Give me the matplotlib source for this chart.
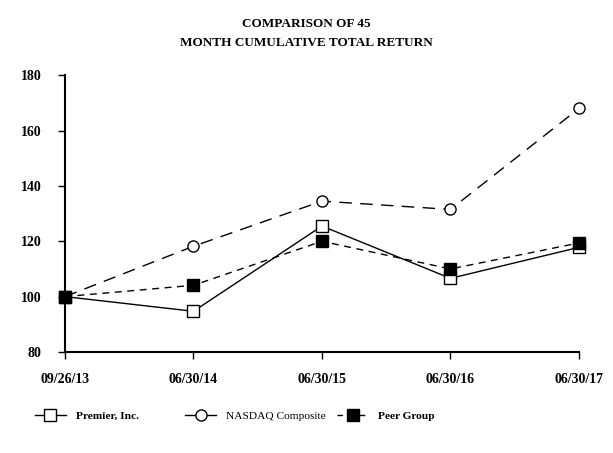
import matplotlib
matplotlib.use("Agg")
import matplotlib.pyplot as plt
from matplotlib.lines import Line2D

plt.rcParams['font.family'] = ['Liberation Serif', 'DejaVu Serif']

dates = ["09/26/13", "06/30/14", "06/30/15", "06/30/16", "06/30/17"]
premier = [100, 94.7, 125.5, 106.6, 117.8]
nasdaq = [100, 118.2, 134.5, 131.5, 168.0]
peer = [100, 104.1, 120.0, 110.0, 119.4]

fig = plt.figure(figsize=(6.13, 4.53), dpi=100)
ax = fig.add_axes([0.106, 0.223, 0.8385, 0.611])

x = range(len(dates))
ax.plot(x, premier, color='black', lw=1, ls='-', marker='s', ms=8,
        mfc='white', mec='black', mew=1, clip_on=False, zorder=3)
ax.plot(x, nasdaq, color='black', lw=1, ls=(0, (9, 6)), marker='o', ms=8,
        mfc='white', mec='black', mew=1, clip_on=False, zorder=3)
ax.plot(x, peer, color='black', lw=1, ls=(0, (5, 4)), marker='s', ms=8,
        mfc='black', mec='black', clip_on=False, zorder=4)

ax.set_xlim(0, 4)
ax.set_ylim(80, 180)
ax.set_yticks(range(80, 181, 20))
ax.set_xticks(list(x))
ax.set_xticklabels(dates)
ax.spines['top'].set_visible(False)
ax.spines['right'].set_visible(False)
ax.spines['left'].set_linewidth(1.5)
ax.spines['bottom'].set_linewidth(1.5)
ax.tick_params(direction='out', length=5, width=1, labelsize=10)
ax.tick_params(axis='x', pad=10)
ax.tick_params(axis='y', pad=12)
for lab in ax.get_xticklabels() + ax.get_yticklabels():
    lab.set_fontweight('bold')

fig.text(0.5, 0.96, "COMPARISON OF 45\nMONTH CUMULATIVE TOTAL RETURN",
         ha='center', va='top', fontsize=9.5, fontweight='bold', linespacing=1.75)

# legend: three separate entries, like the original
entries = [
    (Line2D([], [], color='black', lw=1, ls='-', marker='s', ms=8, mfc='white', mec='black'),
     "Premier, Inc.", 'bold', 0.057),
    (Line2D([], [], color='black', lw=1, ls='-', marker='o', ms=8, mfc='white', mec='black'),
     "NASDAQ Composite", 'normal', 0.302),
    (Line2D([], [], color='black', lw=1, ls=(0, (4, 4)), marker='s', ms=8, mfc='black', mec='black'),
     "Peer Group", 'bold', 0.550),
]
for h, lab, w, xpos in entries:
    lg = fig.legend([h], [lab], loc='center left', bbox_to_anchor=(xpos, 0.082),
                    frameon=False, fontsize=8.2, handlelength=2.7,
                    handletextpad=0.9, borderpad=0, borderaxespad=0)
    lg.get_texts()[0].set_fontweight(w)

fig.savefig("out.png", dpi=100)
